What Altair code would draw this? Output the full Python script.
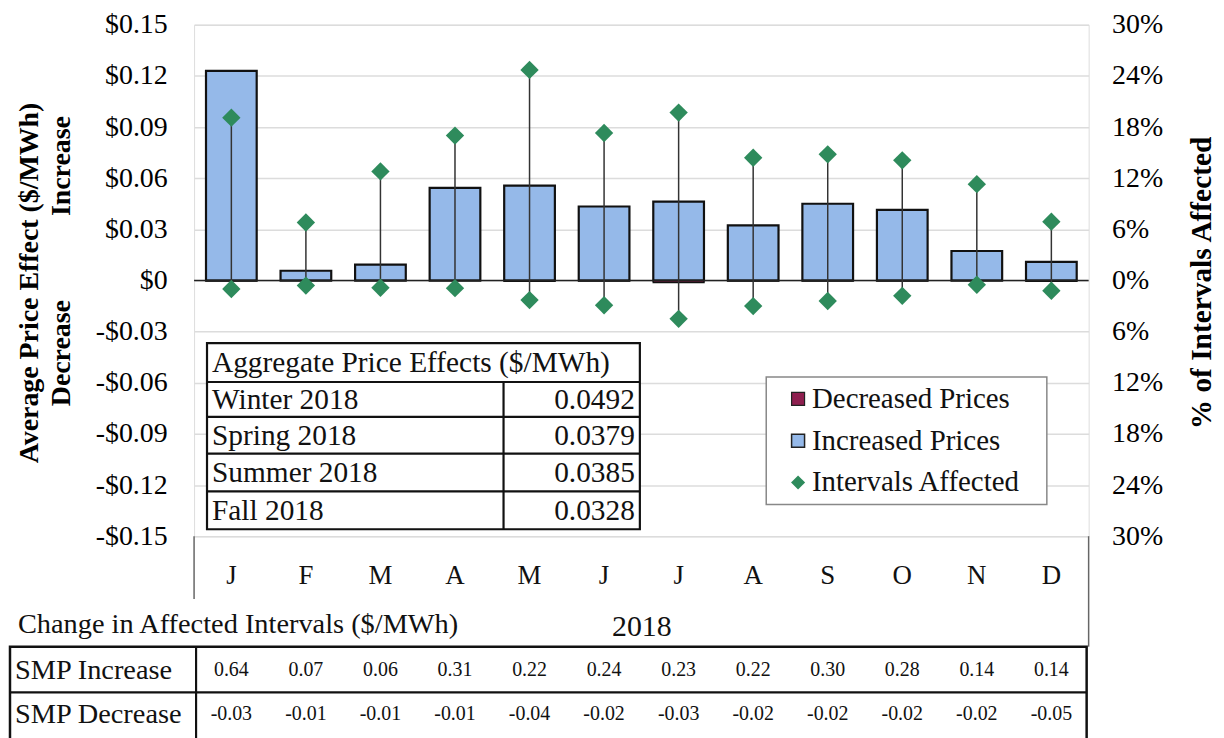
import altair as alt
import pandas as pd

# ---------------- data ----------------
month_keys = ["Jan", "Feb", "Mar", "Apr", "May", "Jun", "Jul", "Aug", "Sep", "Oct", "Nov", "Dec"]
month_labels = ["J", "F", "M", "A", "M", "J", "J", "A", "S", "O", "N", "D"]
increased_prices = [0.123, 0.0057, 0.0093, 0.0543, 0.0556, 0.0434, 0.0463, 0.0323, 0.0450, 0.0414, 0.0173, 0.0109]
decreased_prices = [-0.0003, -0.0001, -0.0001, -0.0002, -0.0004, -0.0003, -0.0012, -0.0003, -0.0003, -0.0003, -0.0002, -0.0004]
intervals_up = [0.191, 0.068, 0.128, 0.170, 0.247, 0.173, 0.197, 0.144, 0.148, 0.141, 0.113, 0.069]
intervals_down = [0.010, 0.006, 0.0085, 0.009, 0.023, 0.029, 0.045, 0.030, 0.024, 0.018, 0.005, 0.012]
smp_increase = ["0.64", "0.07", "0.06", "0.31", "0.22", "0.24", "0.23", "0.22", "0.30", "0.28", "0.14", "0.14"]
smp_decrease = ["-0.03", "-0.01", "-0.01", "-0.01", "-0.04", "-0.02", "-0.03", "-0.02", "-0.02", "-0.02", "-0.02", "-0.05"]
seasons = ["Winter 2018", "Spring 2018", "Summer 2018", "Fall 2018"]
season_values = ["0.0492", "0.0379", "0.0385", "0.0328"]
legend_labels = ["Decreased Prices", "Increased Prices", "Intervals Affected"]
price_ticks = [-0.15, -0.12, -0.09, -0.06, -0.03, 0.0, 0.03, 0.06, 0.09, 0.12, 0.15]
pct_ticks = [-0.30, -0.24, -0.18, -0.12, -0.06, 0.0, 0.06, 0.12, 0.18, 0.24, 0.30]

# ---------------- style ----------------
FONT = "Liberation Serif"
W, H = 899, 514
BLUE = "#95B9E9"
MAROON = "#8E1F4F"
GREEN = "#2E8B5C"
TBL = 29.5
LEG = 29
BOT = 28.5

df = pd.DataFrame({
    "month": month_keys,
    "mlabel": month_labels,
    "inc": increased_prices,
    "dec": decreased_prices,
    "up": intervals_up,
    "down": [-v for v in intervals_down],
    "smp_inc": smp_increase,
    "smp_dec": smp_decrease,
})
pts = pd.DataFrame({"month": month_keys * 2, "pct": intervals_up + [-v for v in intervals_down]})
one = pd.DataFrame({"a": [0]})

price_scale = alt.Scale(domain=[-0.15, 0.15], nice=False, zero=False)
pct_scale = alt.Scale(domain=[-0.30, 0.30], nice=False, zero=False)

x_first = alt.X("month:N", sort=month_keys, scale=alt.Scale(paddingInner=0.32, paddingOuter=0.16), axis=None)
x_plain = alt.X("month:N", sort=month_keys, axis=None)

left_axis = alt.Axis(
    values=price_ticks,
    labelExpr="datum.value == 0 ? '$0' : (datum.value < 0 ? '-$' : '$') + format(abs(datum.value), '.2f')",
    labelFont=FONT, labelFontSize=28, labelColor="#000", labelPadding=27, labelOverlap=False,
    labelFlush=False, ticks=False, tickSize=0, domain=False,
    grid=True, gridColor="#dcdcdc", gridWidth=1.5,
    title="Average Price Effect ($/MWh)", titleFont=FONT, titleFontSize=28, titleFontWeight="bold",
    titleColor="#000", titleX=-165, titleY=259, titleAngle=270, titleAlign="center", titleBaseline="middle",
)
right_axis = alt.Axis(
    orient="right", values=pct_ticks,
    labelExpr="format(abs(datum.value), '.0%')",
    labelFont=FONT, labelFontSize=28, labelColor="#000", labelPadding=23, labelOverlap=False,
    labelFlush=False, ticks=False, tickSize=0, domain=False, grid=False,
    title="% of Intervals Affected", titleFont=FONT, titleFontSize=29.5, titleFontWeight="bold",
    titleColor="#000", titleX=113, titleY=259, titleAngle=270, titleAlign="center", titleBaseline="middle",
)

layers = []

# increased price bars
layers.append(alt.Chart(df).mark_bar(fill=BLUE, stroke="#111", strokeWidth=2.2).encode(
    x=x_first, y=alt.Y("inc:Q", scale=price_scale, axis=left_axis), y2=alt.datum(0)))
# decreased price bars
layers.append(alt.Chart(df).mark_bar(fill=MAROON, stroke="#111", strokeWidth=1.5).encode(
    x=x_plain, y=alt.Y("dec:Q", scale=price_scale, axis=None), y2=alt.datum(0)))
# zero line
layers.append(alt.Chart(one).mark_rule(color="#222", strokeWidth=1.3).encode(
    y=alt.Y("z:Q", scale=price_scale, axis=None)).transform_calculate(z="0"))
# vertical lines between diamonds
layers.append(alt.Chart(df).mark_rule(color="#333", strokeWidth=1.5).encode(
    x=x_plain, y=alt.Y("up:Q", scale=pct_scale, axis=None), y2="down:Q"))
# diamonds
layers.append(alt.Chart(pts).mark_point(shape="diamond", filled=True, fill=GREEN, size=340, opacity=1).encode(
    x=x_plain, y=alt.Y("pct:Q", scale=pct_scale, axis=right_axis)))

# month labels below the plot
layers.append(alt.Chart(df).mark_text(font=FONT, fontSize=27, align="center", baseline="middle",
                                      color="#111").encode(
    x=x_plain, y=alt.value(554), text="mlabel:N"))

# "Increase" / "Decrease" labels of left title
for txt, yy in [("Increase", 142), ("Decrease", 330)]:
    layers.append(alt.Chart(one).mark_text(text=txt, font=FONT, fontSize=28, fontWeight="bold", angle=270,
                                           align="center", baseline="middle", color="#000").encode(
        x=alt.value(-133), y=alt.value(yy)))

# ---- aggregate table inside plot ----
layers.append(alt.Chart(one).mark_rect(fill="white", stroke="#111", strokeWidth=2.2).encode(
    x=alt.value(13), x2=alt.value(448), y=alt.value(320), y2=alt.value(507)))
for yy in [359, 394, 431, 469]:
    layers.append(alt.Chart(one).mark_rule(color="#111", strokeWidth=2.2).encode(
        x=alt.value(13), x2=alt.value(448), y=alt.value(yy)))
layers.append(alt.Chart(one).mark_rule(color="#111", strokeWidth=2.2).encode(
    x=alt.value(311), y=alt.value(359), y2=alt.value(507)))
layers.append(alt.Chart(one).mark_text(text="Aggregate Price Effects ($/MWh)", font=FONT, fontSize=TBL,
                                       align="left", baseline="middle", color="#111").encode(
    x=alt.value(18), y=alt.value(340)))
row_centers = [377, 413, 450.5, 488.5]
for name, val, yc in zip(seasons, season_values, row_centers):
    layers.append(alt.Chart(one).mark_text(text=name, font=FONT, fontSize=TBL, align="left",
                                           baseline="middle", color="#111").encode(
        x=alt.value(18), y=alt.value(yc)))
    layers.append(alt.Chart(one).mark_text(text=val, font=FONT, fontSize=TBL, align="right",
                                           baseline="middle", color="#111").encode(
        x=alt.value(443), y=alt.value(yc)))

# ---- legend ----
layers.append(alt.Chart(one).mark_rect(fill="white", stroke="#888", strokeWidth=1.5).encode(
    x=alt.value(575), x2=alt.value(857), y=alt.value(354), y2=alt.value(482)))
leg_y = [376, 418, 460]
layers.append(alt.Chart(one).mark_point(shape="square", filled=True, fill=MAROON, stroke="#222",
                                        strokeWidth=1.2, size=170, opacity=1).encode(
    x=alt.value(607), y=alt.value(leg_y[0])))
layers.append(alt.Chart(one).mark_point(shape="square", filled=True, fill=BLUE, stroke="#222",
                                        strokeWidth=1.5, size=170, opacity=1).encode(
    x=alt.value(607), y=alt.value(leg_y[1])))
layers.append(alt.Chart(one).mark_point(shape="diamond", filled=True, fill=GREEN, size=200, opacity=1).encode(
    x=alt.value(607), y=alt.value(leg_y[2])))
for lab, yy in zip(legend_labels, leg_y):
    layers.append(alt.Chart(one).mark_text(text=lab, font=FONT, fontSize=LEG, align="left",
                                           baseline="middle", color="#111").encode(
        x=alt.value(621), y=alt.value(yy)))

# ---- below plot: frame extensions and bottom table ----
layers.append(alt.Chart(one).mark_rule(color="#666", strokeWidth=1.5).encode(
    x=alt.value(0), y=alt.value(H), y2=alt.value(577)))
layers.append(alt.Chart(one).mark_rule(color="#666", strokeWidth=1.5).encode(
    x=alt.value(W), y=alt.value(H), y2=alt.value(625)))
layers.append(alt.Chart(one).mark_text(text="Change in Affected Intervals ($/MWh)", font=FONT, fontSize=BOT,
                                       align="left", baseline="middle", color="#111").encode(
    x=alt.value(-177), y=alt.value(602)))
layers.append(alt.Chart(one).mark_text(text="2018", font=FONT, fontSize=30, align="center",
                                       baseline="middle", color="#111").encode(
    x=alt.value(450), y=alt.value(605)))
layers.append(alt.Chart(one).mark_rect(fill="white", fillOpacity=0, stroke="#111", strokeWidth=2.5).encode(
    x=alt.value(-185), x2=alt.value(897), y=alt.value(625), y2=alt.value(770)))
layers.append(alt.Chart(one).mark_rule(color="#111", strokeWidth=2.2).encode(
    x=alt.value(-185), x2=alt.value(897), y=alt.value(671)))
layers.append(alt.Chart(one).mark_rule(color="#111", strokeWidth=2.2).encode(
    x=alt.value(2), y=alt.value(625), y2=alt.value(770)))
for lab, yy in [("SMP Increase", 648), ("SMP Decrease", 693)]:
    layers.append(alt.Chart(one).mark_text(text=lab, font=FONT, fontSize=BOT, align="left",
                                           baseline="middle", color="#111").encode(
        x=alt.value(-180), y=alt.value(yy)))
layers.append(alt.Chart(df).mark_text(font=FONT, fontSize=20, align="center", baseline="middle",
                                      color="#111").encode(
    x=x_plain, y=alt.value(648), text="smp_inc:N"))
layers.append(alt.Chart(df).mark_text(font=FONT, fontSize=20, align="center", baseline="middle",
                                      color="#111").encode(
    x=x_plain, y=alt.value(693), text="smp_dec:N"))

chart = alt.layer(*layers).resolve_scale(y="independent").properties(
    width=W, height=H,
    autosize=alt.AutoSizeParams(type="none"),
    padding={"left": 187, "top": 15, "right": 128, "bottom": 215},
    background="white",
).configure_view(stroke="#8c8c8c", strokeWidth=1.5).configure(font=FONT)

chart.save("out.html", embed_options={"renderer": "svg", "actions": False})
